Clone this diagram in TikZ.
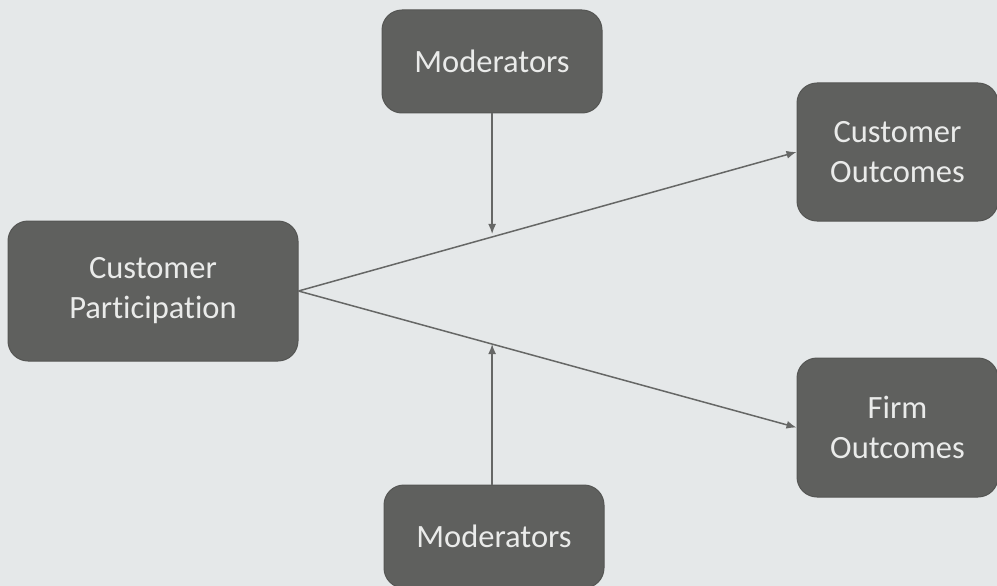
\documentclass[tikz,border=0pt]{standalone}
\usepackage{fontspec}
\setmainfont{Carlito}[Ligatures=NoCommon]
\usetikzlibrary{arrows.meta,calc}
\definecolor{bg}{HTML}{E5E8E9}
\definecolor{boxfill}{HTML}{5F605E}
\definecolor{boxline}{HTML}{555654}
\definecolor{txt}{HTML}{EAEBEA}
\definecolor{arrc}{HTML}{666766}
\begin{document}
\begin{tikzpicture}[x=1pt,y=-1pt,
  box/.style={draw=boxline,line width=1pt,fill=boxfill,rounded corners=20pt,
    text=txt,align=center,font=\fontsize{32.5}{40}\selectfont,inner sep=0pt},
  arr/.style={draw=arrc,line width=1.5pt,-{Latex[length=10pt,width=8pt]}}]
\fill[bg] (0,0) rectangle (997,586);
\useasboundingbox (0,0) rectangle (997,586);
\clip (0,0) rectangle (997,586);
\node[box,minimum width=220pt,minimum height=103pt] (TM) at (492,61.5) {Moderators};
\node[box,minimum width=290pt,minimum height=140pt] (CP) at (153,291) {Customer\\Participation};
\node[box,minimum width=201pt,minimum height=138pt] (CO) at (897.5,152) {Customer\\Outcomes};
\node[box,minimum width=201pt,minimum height=139pt] (FO) at (897.5,427.5) {Firm\\Outcomes};
\node[box,minimum width=220pt,minimum height=103pt] (BM) at (494,536.5) {Moderators};
\draw[arr] (CP.east) -- (CO.west);
\draw[arr] (CP.east) -- (FO.west);
\coordinate (t1) at ($(CP.east)!0.3888!(CO.west)$);
\coordinate (t2) at ($(CP.east)!0.3888!(FO.west)$);
\draw[arr,shorten >=3pt] (TM.south -| t1) -- (t1);
\draw[arr] (BM.north -| t2) -- (t2);
\end{tikzpicture}
\end{document}
